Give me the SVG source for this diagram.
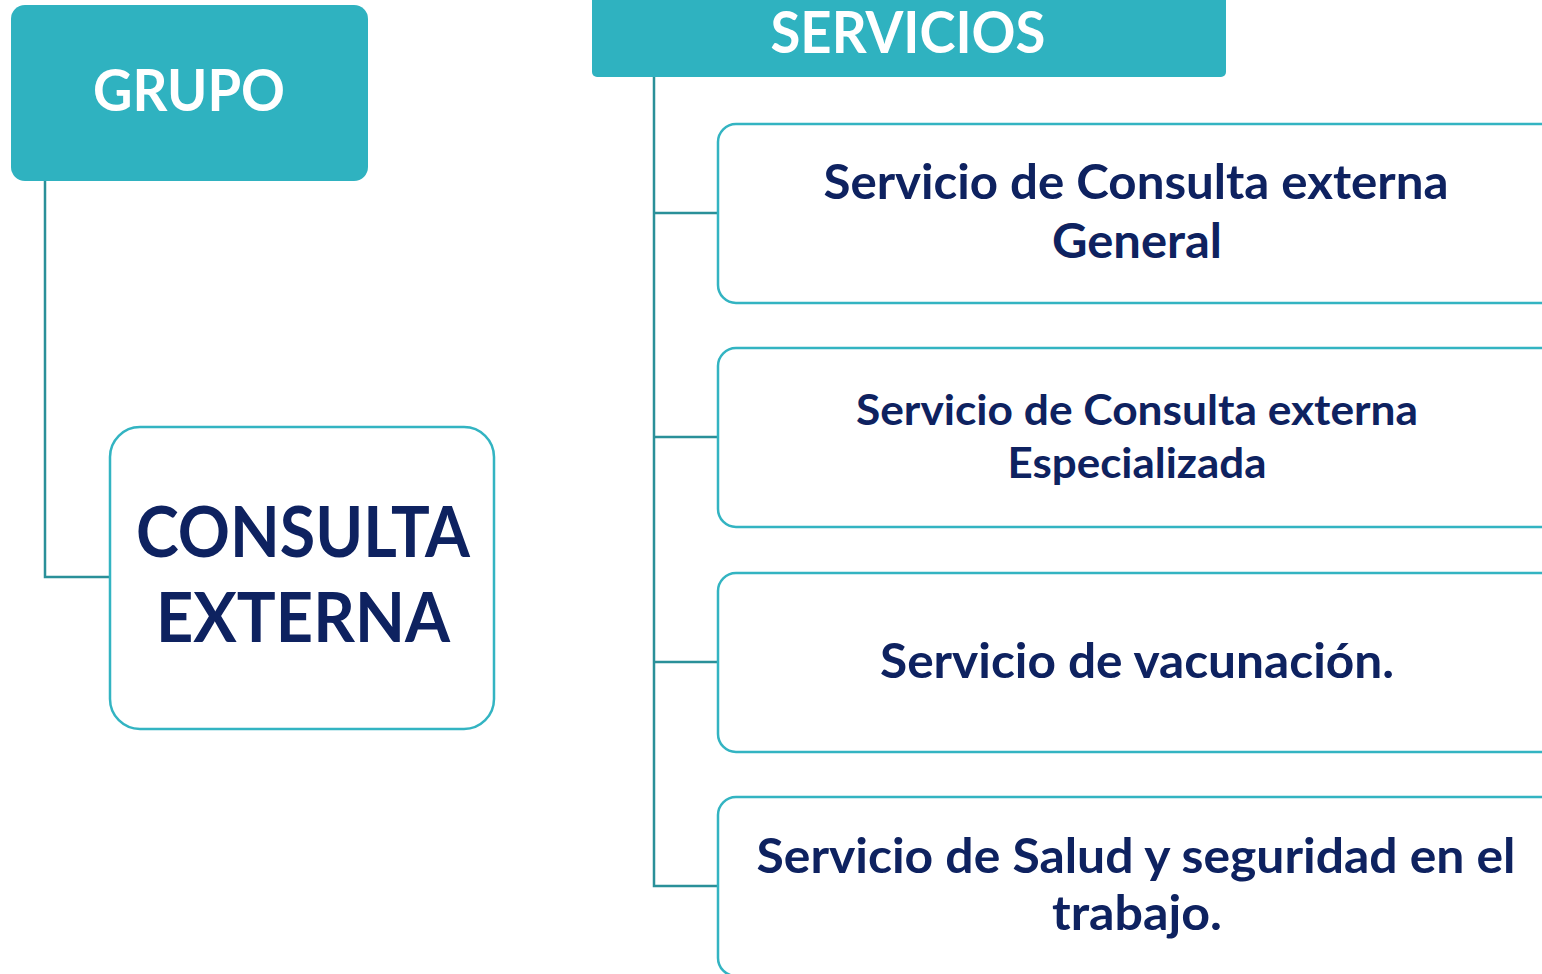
<svg xmlns="http://www.w3.org/2000/svg" width="1542" height="974" viewBox="0 0 1542 974">
<style>
.head{fill:#2FB2C0}
.box{fill:#FFFFFF;stroke:#33B4C2;stroke-width:2.5}
.conn{fill:none;stroke:#2A9099;stroke-width:2.5}
.wt{font-family:Lato,"Open Sans",sans-serif;font-weight:bold;fill:#FFFFFF;text-anchor:middle}
.nt{font-family:Lato,"Open Sans",sans-serif;font-weight:bold;fill:#0E2260;text-anchor:middle}
</style>
<rect width="1542" height="974" fill="#FFFFFF"/>
<g id="connectors">
<path class="conn" d="M45 181 V577 H110"/>
<path class="conn" d="M654 77 V886 H718 M654 213 H718 M654 437 H718 M654 662 H718"/>
</g>
<g id="grupo">
<rect class="head" x="11" y="5" width="357" height="176" rx="14"/>
<text class="wt" x="189" y="111" font-size="58" textLength="192" lengthAdjust="spacingAndGlyphs">GRUPO</text>
</g>
<g id="servicios">
<rect class="head" x="592" y="-10" width="634" height="87" rx="5"/>
<text class="wt" x="908" y="53" font-size="57" textLength="275" lengthAdjust="spacingAndGlyphs">SERVICIOS</text>
</g>
<g id="consulta-externa">
<rect class="box" x="110" y="427" width="384" height="302" rx="30"/>
<text class="nt" x="303" y="557" font-size="71" textLength="334" lengthAdjust="spacingAndGlyphs">CONSULTA</text>
<text class="nt" x="303" y="642" font-size="69" textLength="294" lengthAdjust="spacingAndGlyphs">EXTERNA</text>
</g>
<g id="serv-general">
<rect class="box" x="718" y="124" width="860" height="179" rx="18"/>
<text class="nt" x="1136" y="199" font-size="47" textLength="625" lengthAdjust="spacingAndGlyphs">Servicio de Consulta externa</text>
<text class="nt" x="1137" y="258" font-size="47" textLength="170" lengthAdjust="spacingAndGlyphs">General</text>
</g>
<g id="serv-especializada">
<rect class="box" x="718" y="348" width="860" height="179" rx="18"/>
<text class="nt" x="1137" y="425" font-size="42.5" textLength="562" lengthAdjust="spacingAndGlyphs">Servicio de Consulta externa</text>
<text class="nt" x="1137" y="478" font-size="42.5" textLength="259" lengthAdjust="spacingAndGlyphs">Especializada</text>
</g>
<g id="serv-vacunacion">
<rect class="box" x="718" y="573" width="860" height="179" rx="18"/>
<text class="nt" x="1137" y="678" font-size="47" textLength="514" lengthAdjust="spacingAndGlyphs">Servicio de vacunación.</text>
</g>
<g id="serv-salud">
<rect class="box" x="718" y="797" width="860" height="179" rx="18"/>
<text class="nt" x="1136" y="873" font-size="47" textLength="759" lengthAdjust="spacingAndGlyphs">Servicio de Salud y seguridad en el</text>
<text class="nt" x="1137" y="930" font-size="47" textLength="170" lengthAdjust="spacingAndGlyphs">trabajo.</text>
</g>
</svg>
